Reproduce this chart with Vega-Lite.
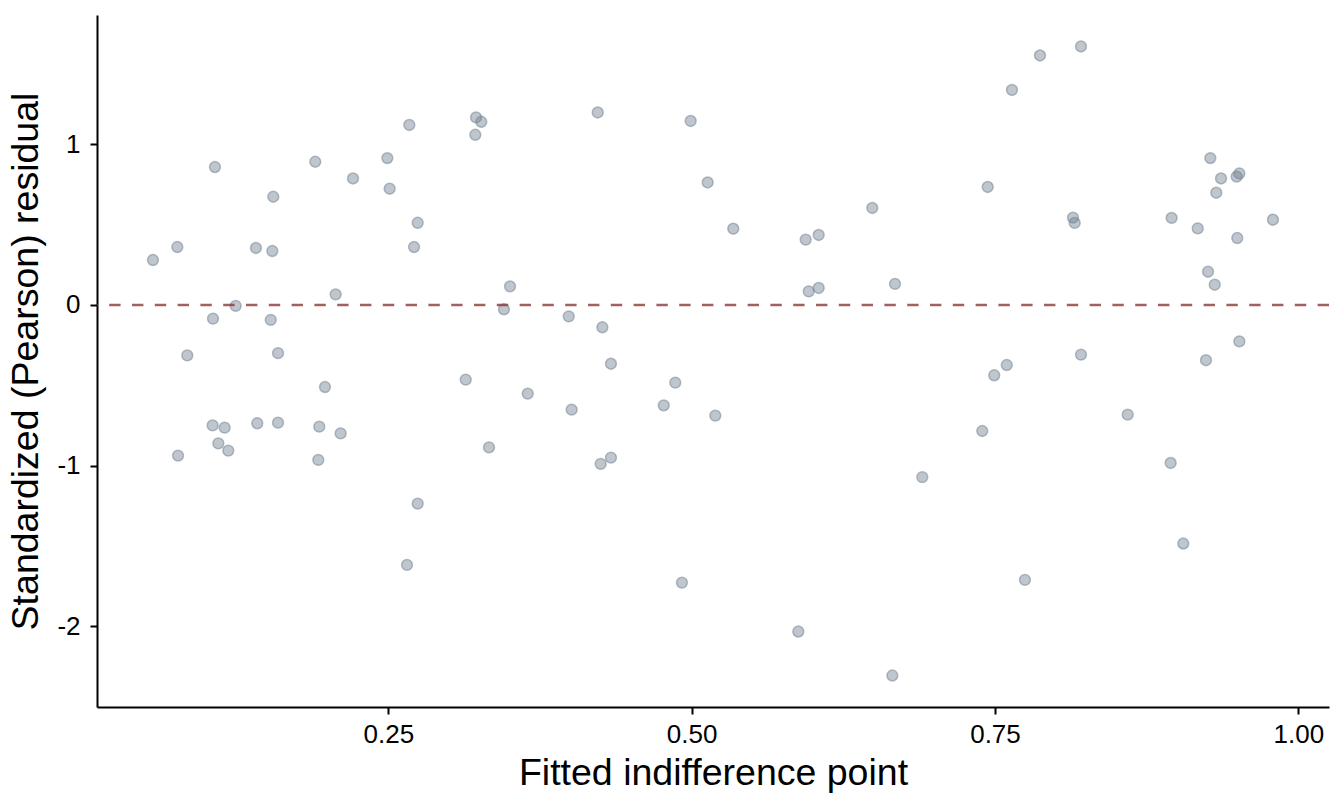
{
  "$schema": "https://vega.github.io/schema/vega-lite/v6.json",
  "width": 1232,
  "height": 692,
  "autosize": {"type": "none"},
  "padding": {"left": 97, "top": 15, "right": 15, "bottom": 99},
  "background": "white",
  "config": {
    "view": {"stroke": null},
    "font": "Liberation Sans",
    "axis": {
      "grid": false,
      "domainColor": "black",
      "domainWidth": 2,
      "tickColor": "black",
      "tickWidth": 2,
      "tickSize": 7,
      "labelColor": "black",
      "labelFont": "Liberation Sans",
      "labelFontSize": 26,
      "titleFont": "Liberation Sans",
      "titleFontSize": 37.5,
      "titleFontWeight": "normal",
      "titleColor": "black"
    }
  },
  "layer": [
    {
      "data": {
        "values": [
          {"fitted": 0.0560, "resid": 0.280},
          {"fitted": 0.0761, "resid": 0.361},
          {"fitted": 0.1071, "resid": 0.859},
          {"fitted": 0.1409, "resid": 0.355},
          {"fitted": 0.1544, "resid": 0.336},
          {"fitted": 0.1552, "resid": 0.674},
          {"fitted": 0.1898, "resid": 0.892},
          {"fitted": 0.2209, "resid": 0.788},
          {"fitted": 0.2492, "resid": 0.915},
          {"fitted": 0.2511, "resid": 0.724},
          {"fitted": 0.2673, "resid": 1.121},
          {"fitted": 0.2742, "resid": 0.512},
          {"fitted": 0.2712, "resid": 0.361},
          {"fitted": 0.3223, "resid": 1.168},
          {"fitted": 0.3266, "resid": 1.141},
          {"fitted": 0.3217, "resid": 1.060},
          {"fitted": 0.3503, "resid": 0.116},
          {"fitted": 0.3453, "resid": -0.027},
          {"fitted": 0.1242, "resid": -0.006},
          {"fitted": 0.1055, "resid": -0.085},
          {"fitted": 0.1531, "resid": -0.093},
          {"fitted": 0.2066, "resid": 0.066},
          {"fitted": 0.0843, "resid": -0.314},
          {"fitted": 0.1591, "resid": -0.300},
          {"fitted": 0.1978, "resid": -0.511},
          {"fitted": 0.3138, "resid": -0.465},
          {"fitted": 0.1052, "resid": -0.750},
          {"fitted": 0.1151, "resid": -0.764},
          {"fitted": 0.1420, "resid": -0.737},
          {"fitted": 0.1591, "resid": -0.733},
          {"fitted": 0.1931, "resid": -0.758},
          {"fitted": 0.2107, "resid": -0.800},
          {"fitted": 0.1099, "resid": -0.862},
          {"fitted": 0.1181, "resid": -0.907},
          {"fitted": 0.0767, "resid": -0.938},
          {"fitted": 0.1923, "resid": -0.965},
          {"fitted": 0.3330, "resid": -0.887},
          {"fitted": 0.2742, "resid": -1.237},
          {"fitted": 0.2654, "resid": -1.619},
          {"fitted": 0.4226, "resid": 1.199},
          {"fitted": 0.4992, "resid": 1.146},
          {"fitted": 0.5132, "resid": 0.763},
          {"fitted": 0.5343, "resid": 0.475},
          {"fitted": 0.5940, "resid": 0.407},
          {"fitted": 0.6047, "resid": 0.436},
          {"fitted": 0.6489, "resid": 0.604},
          {"fitted": 0.5965, "resid": 0.085},
          {"fitted": 0.6047, "resid": 0.106},
          {"fitted": 0.6676, "resid": 0.131},
          {"fitted": 0.3987, "resid": -0.071},
          {"fitted": 0.4264, "resid": -0.139},
          {"fitted": 0.4335, "resid": -0.366},
          {"fitted": 0.3649, "resid": -0.552},
          {"fitted": 0.4011, "resid": -0.652},
          {"fitted": 0.4865, "resid": -0.484},
          {"fitted": 0.4770, "resid": -0.625},
          {"fitted": 0.5195, "resid": -0.689},
          {"fitted": 0.4250, "resid": -0.990},
          {"fitted": 0.4335, "resid": -0.951},
          {"fitted": 0.4920, "resid": -1.729},
          {"fitted": 0.5879, "resid": -2.034},
          {"fitted": 0.6654, "resid": -2.308},
          {"fitted": 0.6901, "resid": -1.072},
          {"fitted": 0.7871, "resid": 1.554},
          {"fitted": 0.8209, "resid": 1.610},
          {"fitted": 0.7640, "resid": 1.339},
          {"fitted": 0.7440, "resid": 0.735},
          {"fitted": 0.8143, "resid": 0.544},
          {"fitted": 0.8157, "resid": 0.511},
          {"fitted": 0.9275, "resid": 0.915},
          {"fitted": 0.9363, "resid": 0.788},
          {"fitted": 0.9492, "resid": 0.799},
          {"fitted": 0.9514, "resid": 0.819},
          {"fitted": 0.9324, "resid": 0.699},
          {"fitted": 0.8956, "resid": 0.542},
          {"fitted": 0.9171, "resid": 0.477},
          {"fitted": 0.9497, "resid": 0.417},
          {"fitted": 0.9791, "resid": 0.531},
          {"fitted": 0.9256, "resid": 0.207},
          {"fitted": 0.9311, "resid": 0.126},
          {"fitted": 0.9514, "resid": -0.227},
          {"fitted": 0.8209, "resid": -0.309},
          {"fitted": 0.9239, "resid": -0.344},
          {"fitted": 0.7597, "resid": -0.374},
          {"fitted": 0.7395, "resid": -0.785},
          {"fitted": 0.7494, "resid": -0.438},
          {"fitted": 0.8594, "resid": -0.683},
          {"fitted": 0.8948, "resid": -0.984},
          {"fitted": 0.9052, "resid": -1.486},
          {"fitted": 0.7747, "resid": -1.712}
        ]
      },
      "mark": {
        "type": "circle",
        "opacity": 1,
        "fill": "#708090",
        "fillOpacity": 0.45,
        "stroke": "#708090",
        "strokeOpacity": 0.5,
        "strokeWidth": 1.5,
        "size": 118
      },
      "encoding": {
        "x": {
          "field": "fitted",
          "type": "quantitative",
          "title": "Fitted indifference point",
          "scale": {"domain": [0.0099, 1.0253], "nice": false, "zero": false},
          "axis": {"values": [0.25, 0.5, 0.75, 1.0], "format": ".2f", "labelPadding": 7, "titlePadding": 7}
        },
        "y": {
          "field": "resid",
          "type": "quantitative",
          "title": "Standardized (Pearson) residual",
          "scale": {"domain": [-2.504, 1.806], "nice": false, "zero": false},
          "axis": {"values": [-2, -1, 0, 1], "labelExpr": "datum.value < 0 ? '-' + abs(datum.value) : '' + datum.value", "labelPadding": 10, "titlePadding": 11}
        }
      }
    },
    {
      "data": {"values": [{"y0": 0}]},
      "mark": {"type": "rule", "color": "#8B3A3A", "opacity": 0.8, "strokeDash": [11.4, 11.4], "strokeWidth": 2.6},
      "encoding": {
        "y": {"field": "y0", "type": "quantitative", "scale": {"domain": [-2.504, 1.806], "nice": false, "zero": false}}
      }
    }
  ]
}
